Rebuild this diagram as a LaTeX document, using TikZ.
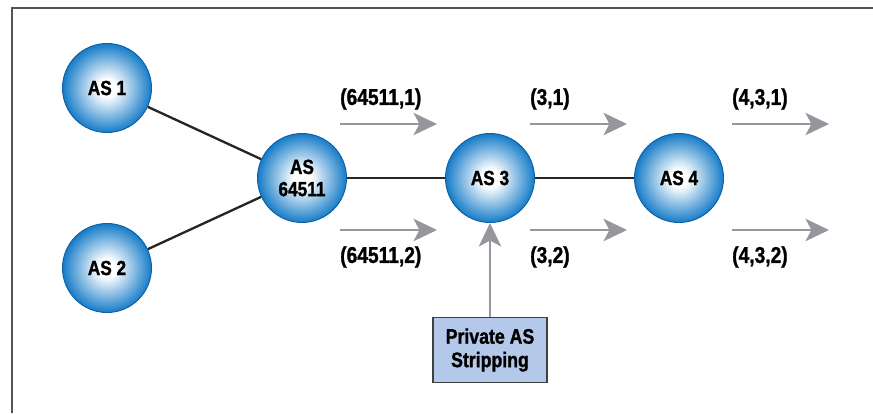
\documentclass[tikz,border=0pt]{standalone}
\usepackage{fontspec}
\setmainfont{Liberation Sans}[FakeStretch=0.84, BoldFeatures={FakeBold=1.2}]
\usetikzlibrary{arrows.meta}

\definecolor{asblue}{RGB}{22,124,200}
\definecolor{asrim}{RGB}{15,95,165}
\definecolor{flowgray}{RGB}{150,151,156}
\definecolor{boxblue}{RGB}{180,200,234}
\definecolor{framegray}{RGB}{85,85,85}

\pgfdeclareradialshading{asball}{\pgfpoint{0bp}{0bp}}{%
  color(0bp)=(white); color(5bp)=(white);
  color(15bp)=(asblue!50!white); color(25bp)=(asblue); color(50bp)=(asblue)}

\tikzset{
  asnode/.style={circle, draw=asrim, line width=0.8pt, shading=asball,
    minimum size=2.67cm, inner sep=0pt, align=center,
    font=\bfseries\fontsize{17.5}{19}\selectfont},
  link/.style={line width=2pt, black!85},
  flow/.style={line width=2.5pt, flowgray,
    -{Stealth[length=20pt,width=19pt,inset=5pt]}},
  lbl/.style={inner sep=0pt, font=\bfseries\fontsize{19.5}{20}\selectfont},
  stripbox/.style={draw=black!75, line width=1pt, fill=boxblue,
    minimum width=3.42cm, minimum height=1.95cm, align=center,
    font=\bfseries\fontsize{18}{20}\selectfont}
}

\begin{document}
\begin{tikzpicture}[x=0.03cm,y=-0.03cm]
    \useasboundingbox (0,0) rectangle (873,413);

    % draw the frame
    \draw[framegray, line width=1.3pt] (12,413) -- (12,8) -- (873,8);

    % draw the autonomous systems
    \node[asnode] (as1) at (107,88) {AS 1};
    \node[asnode] (as2) at (107,268) {AS 2};
    \node[asnode] (as64511) at (302,178) {AS\\64511};
    \node[asnode] (as3) at (490,178) {AS 3};
    \node[asnode] (as4) at (679,178) {AS 4};

    % draw the links between them
    \draw[link] (as1) -- (as64511);
    \draw[link] (as2) -- (as64511);
    \draw[link] (as64511) -- (as3);
    \draw[link] (as3) -- (as4);

    % draw the updates and their paths
    \foreach \i/\xa/\lup/\ldown in {
        1/340/{(64511,1)}/{(64511,2)},
        2/530/{(3,1)}/{(3,2)},
        3/732/{(4,3,1)}/{(4,3,2)}} {
        % the upper row
        \coordinate (up\i s) at (\xa,124);
        \coordinate (up\i e) at (\xa+97,124);
        \draw[flow] (up\i s) -- (up\i e);
        \node[lbl, anchor=west] (lup\i) at (\xa,99) {\lup};
        % the lower row
        \coordinate (dn\i s) at (\xa,230);
        \coordinate (dn\i e) at (\xa+97,230);
        \draw[flow] (dn\i s) -- (dn\i e);
        \node[lbl, anchor=west] (ldn\i) at (\xa,257) {\ldown};
        }

    % draw the stripping box
    \node[stripbox] (strip) at (490,350) {Private AS\\Stripping};
    \draw[flow] (strip) -- (as3);
\end{tikzpicture}
\end{document}
